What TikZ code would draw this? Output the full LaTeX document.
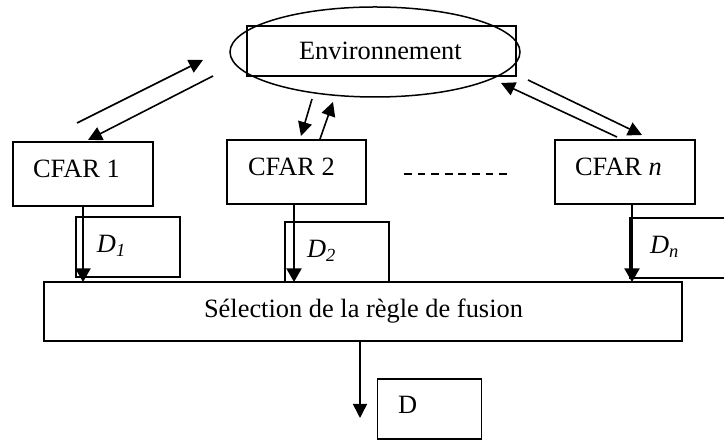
\documentclass[tikz,border=0pt]{standalone}
\usepackage{fontspec}
\setmainfont{Liberation Serif}
\usetikzlibrary{arrows.meta,shapes.geometric}
\begin{document}
\begin{tikzpicture}[x=0.5pt,y=-0.5pt,
  every node/.style={inner sep=0pt,outer sep=0pt},
  boxnode/.style={draw,line width=0.75pt,rectangle},
  txt/.style={anchor=base west,font=\fontsize{13.2}{15}\selectfont},
  arr/.style={line width=0.8pt,-{Triangle[length=7pt,width=7pt]}},
  varr/.style={line width=1.1pt,-{Triangle[length=6.8pt,width=7.5pt]}}]
\clip (0,0) rectangle (724,442);
\fill[white] (0,0) rectangle (724,442);
% Environment
\node[boxnode,minimum width=134.5pt,minimum height=25pt] (envbox) at (381.5,51) {};
\node[draw,line width=0.75pt,ellipse,minimum width=145pt,minimum height=45pt] (envell) at (375,52) {};
\node[txt] (envt) at (299,60) {Environnement};
% CFAR boxes
\node[boxnode,minimum width=70pt,minimum height=32pt] (c1) at (83,174) {};
\node[boxnode,minimum width=69.5pt,minimum height=32pt] (c2) at (296.5,172) {};
\node[boxnode,minimum width=70pt,minimum height=32pt] (cn) at (625,172) {};
\node[txt] (c1t) at (33,178) {CFAR 1};
\node[txt] (c2t) at (248,176) {CFAR 2};
\node[txt] (cnt) at (575,176) {CFAR \textit{n}};
\draw[line width=0.75pt,dash pattern=on 3.9pt off 2.9pt] (404,174) coordinate (dl1) -- (507,174) coordinate (dl2);
% D boxes
\node[boxnode,minimum width=52pt,minimum height=30pt] (d1) at (128,247) {};
\node[boxnode,minimum width=52pt,minimum height=30pt] (d2) at (337,252) {};
\node[boxnode,minimum width=52pt,minimum height=30pt] (dn) at (682,248) {};
\node[txt] (d1t) at (97,253) {\textit{D\textsubscript{1}}};
\node[txt] (d2t) at (307,258) {\textit{D\textsubscript{2}}};
\node[txt] (dnt) at (650,254) {\textit{D\textsubscript{n}}};
% Fusion
\node[boxnode,minimum width=319pt,minimum height=29.5pt] (fus) at (363,311.5) {};
\node[txt,anchor=base] (fust) at (363.5,318) {Sélection de la règle de fusion};
% Output
\node[boxnode,minimum width=52pt,minimum height=30pt] (dout) at (429.5,409) {};
\node[txt] (doutt) at (398,414) {D};
% arrow coordinates
\coordinate (p1a) at (77,123); \coordinate (p1b) at (203,60);
\coordinate (p2a) at (213,76); \coordinate (p2b) at (88,140);
\coordinate (p3a) at (312,99); \coordinate (p3b) at (301,136);
\coordinate (p4a) at (320,139); \coordinate (p4b) at (333,102);
\coordinate (p5a) at (528,80); \coordinate (p5b) at (642,135);
\coordinate (p6a) at (617,137); \coordinate (p6b) at (501,83);
\draw[arr] (p1a) -- (p1b);
\draw[arr] (p2a) -- (p2b);
\draw[arr] (p3a) -- (p3b);
\draw[arr] (p4a) -- (p4b);
\draw[arr] (p5a) -- (p5b);
\draw[arr] (p6a) -- (p6b);
% vertical arrows
\draw[varr] (c1.south) -- (c1.south |- fus.north);
\draw[varr] (c2.south -| 294,0) -- (294,282);
\draw[varr] (cn.south -| 632,0) -- (632,282);
\draw[arr] (fus.south -| 360,0) -- (360,418);
\end{tikzpicture}
\end{document}
